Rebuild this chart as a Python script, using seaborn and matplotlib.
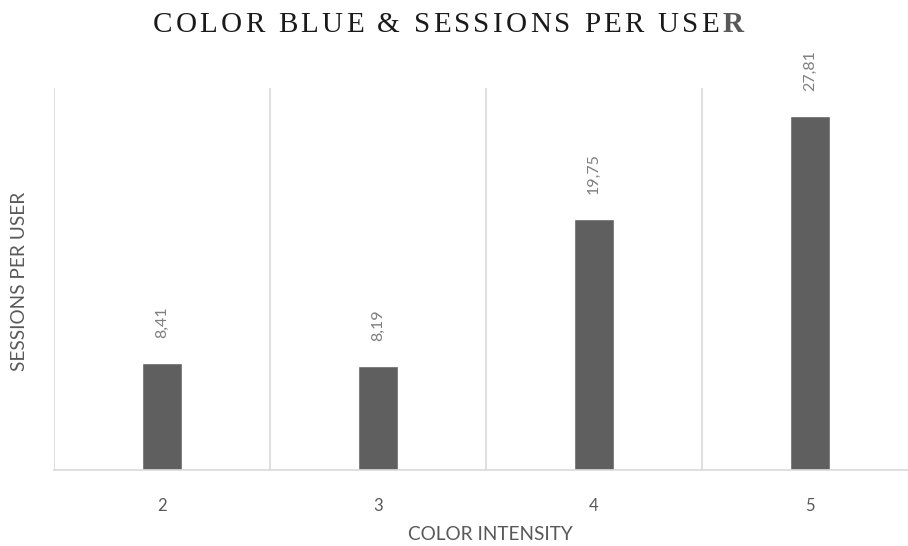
import matplotlib
matplotlib.use("Agg")
import matplotlib.pyplot as plt
import seaborn as sns
import pandas as pd
from matplotlib import font_manager as fm
from matplotlib.ft2font import FT2Font

categories = ["2", "3", "4", "5"]
sessions = [8.41, 8.19, 19.75, 27.81]
value_labels = ["8,41", "8,19", "19,75", "27,81"]
title_main = "COLOR BLUE & SESSIONS PER USE"
title_last = "R"

sns.set_theme(style="white")
plt.rcParams["font.family"] = ["Lato", "DejaVu Sans"]

DPI = 100
df = pd.DataFrame({"intensity": categories, "sessions": sessions})

fig = plt.figure(figsize=(9.08, 5.46), dpi=DPI)
W, H = 908, 546
ax = fig.add_axes([54 / W, 1 - 470 / H, 864 / W, 382 / H])

sns.barplot(data=df, x="intensity", y="sessions", color="#5f5f5f",
            width=0.185, saturation=1, ax=ax)

ax.set_xlim(-0.5, 3.5)
ax.set_ylim(0, 30)

# category separators
for b in [-0.5, 0.5, 1.5, 2.5]:
    ax.axvline(b, color="#d9d9d9", lw=1.2, zorder=0)
for s in ["top", "right", "left"]:
    ax.spines[s].set_visible(False)
ax.spines["bottom"].set_color("#d9d9d9")
ax.spines["bottom"].set_linewidth(1.2)

ax.set_yticks([])
ax.tick_params(axis="x", length=0, pad=20, labelsize=12, colors="#595959")

for i, (v, lab) in enumerate(zip(sessions, value_labels)):
    ax.annotate(lab, (i, v), xytext=(0, 18), textcoords="offset points",
                rotation=90, ha="center", va="bottom", fontsize=11.5,
                color="#7f7f7f")

ax.set_xlabel("")
ax.set_ylabel("")
fig.text(490 / W, 1 - 535 / H, "COLOR INTENSITY", ha="center", va="center",
         fontsize=13.7, color="#595959")
fig.text(20 / W, 1 - 281 / H, "SESSIONS PER USER", rotation=90,
         ha="center", va="center", fontsize=13.7, color="#595959")

# spaced-out serif title, last letter bold grey
title_size = 21
tracking = 3.2  # extra pixels between letters
reg_path = fm.findfont(fm.FontProperties(family="Liberation Serif"))
bold_path = fm.findfont(fm.FontProperties(family="Liberation Serif",
                                          weight="bold"))


def advances(path, text):
    f = FT2Font(path)
    f.set_size(title_size, DPI)
    return [f.load_char(ord(c)).linearHoriAdvance / 65536.0 for c in text]


adv_main = advances(reg_path, title_main)
adv_last = advances(bold_path, title_last)
total = sum(adv_main) + sum(adv_last) + tracking * len(title_main)
x = W / 2 - total / 2 - 6
base_y = 1 - 32 / H
for c, a in zip(title_main, adv_main):
    fig.text(x / W, base_y, c, ha="left", va="baseline", fontsize=title_size,
             color="#1a1a1a", family=["Liberation Serif"])
    x += a + tracking
fig.text(x / W, base_y, title_last, ha="left", va="baseline",
         fontsize=title_size, color="#595959", fontweight="bold",
         family=["Liberation Serif"])

fig.savefig("out.png", dpi=DPI)
